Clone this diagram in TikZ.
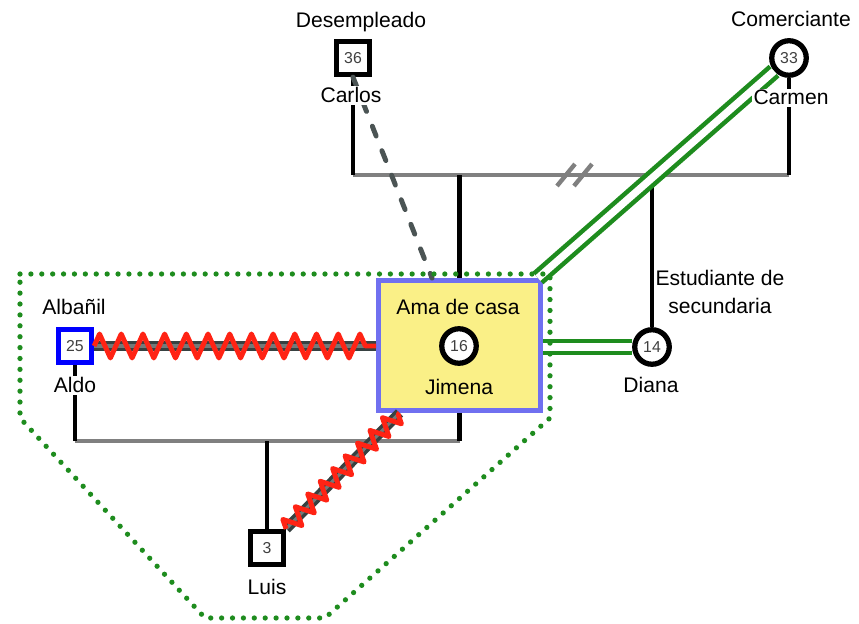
\documentclass[tikz,border=0pt]{standalone}
\usepackage{fontspec}
\setmainfont{Liberation Sans}
\usetikzlibrary{positioning,calc,decorations.pathmorphing}

\definecolor{famgreen}{RGB}{30,140,30}
\definecolor{boxblue}{RGB}{112,112,240}
\definecolor{boxyellow}{RGB}{250,240,135}
\definecolor{abuse}{RGB}{255,35,20}
\definecolor{slate}{RGB}{55,65,65}
\definecolor{numgray}{RGB}{64,64,64}

\tikzset{
  male/.style={draw, line width=3pt, fill=white, minimum size=0.66cm, inner sep=0pt,
    text=numgray, font=\fontsize{9}{10}\selectfont},
  female/.style={male, circle, minimum size=0.69cm},
  txt/.style={fill=white, inner sep=1pt, anchor=base, font=\fontsize{12}{16.4}\selectfont},
  kin/.style={line width=2.5pt},
  tie/.style={line width=2.5pt, gray},
  close/.style={draw=famgreen, line width=2.6pt, double=white, double distance=4.2pt},
  distant/.style={slate!90, line width=2.8pt, line cap=round, dash pattern=on 6pt off 9pt},
  hostile/.style={slate, line width=2pt, double=slate!70, double distance=1.8pt},
  zig/.style={abuse, line width=2.8pt, line join=round, decorate,
    decoration={zigzag, segment length=0.434cm, amplitude=0.24cm}},
  zigs/.style={zig, decoration={zigzag, segment length=0.356cm, amplitude=0.18cm}},
  household/.style={famgreen, line width=3pt, line cap=round, dash pattern=on 0pt off 6.2pt}
}

\begin{document}
\begin{tikzpicture}[x=0.02cm, y=-0.02cm]
\useasboundingbox (0,0) rectangle (859,624);

% people
\node[male] (carlos) at (353,58) {36};
\node[female] (carmen) at (789,58) {33};
\node[draw=boxblue, fill=boxyellow, line width=2.8pt, minimum width=3.24cm,
  minimum height=2.6cm] (jbox) at (459.5,345.5) {};
\node[female] (diana) at (652,347) {14};
\node[male, draw=blue] (aldo) at (75,346) {25};
\node[male] (luis) at (267,548) {3};

% marriage bars
\coordinate (bar1) at (0,175);
\coordinate (bar2) at (0,441);
\draw[tie] (carlos |- bar1) -- (carmen |- bar1);
\foreach \x in {566,583}
  \draw[tie] (\x,175) ++(-9,11) -- ++(18,-22);
\draw[kin] (carlos) -- (carlos |- bar1);
\draw[kin] (carmen) -- (carmen |- bar1);
\draw[kin] (jbox.north) -- (jbox.north |- bar1);
\draw[kin] (diana) -- (diana |- bar1);
\draw[tie] (aldo |- bar2) -- (jbox.south |- bar2);
\draw[kin] (aldo) -- (aldo |- bar2);
\draw[kin] (jbox.south) -- (jbox.south |- bar2);
\draw[kin] (luis) -- (luis |- bar2);

% relations
\draw[distant] (carlos.south) -- ([xshift=-0.55cm]jbox.north);
\draw[close] ([xshift=-0.1cm]jbox.north east) -- (carmen);
\draw[close] (jbox.east |- diana) -- (diana);
\draw[hostile] (aldo) -- (aldo -| jbox.west);
\draw[zig] (aldo) -- (aldo -| jbox.west);
\draw[hostile] (luis.north east) -- ([xshift=-1.2cm]jbox.south);
\draw[zigs] (luis.north east) -- ([xshift=-1.2cm]jbox.south);

% household
\draw[household] (20,274) -- (550,274) -- (550,418) -- (325,618) -- (205,618)
  -- (20,418) -- cycle;

\node[female] (jimena) at (459,346) {16};

% labels
\node[txt] (jcarlos) at (361,28) {Desempleado};
\node[txt] (ncarlos) at (351,103) {Carlos};
\node[txt] (jcarmen) at (791,27) {Comerciante};
\node[txt] (ncarmen) at (791,105) {Carmen};
\node[txt, fill=none] (jjimena) at (458,315) {Ama de casa};
\node[txt, fill=none] (njimena) at (459,395) {Jimena};
\node[txt, anchor=center, align=center] (jdiana) at (720,292) {Estudiante de\\secundaria};
\node[txt] (ndiana) at (651,393) {Diana};
\node[txt] (jaldo) at (74,315) {Albañil};
\node[txt] (naldo) at (75,393) {Aldo};
\node[txt] (nluis) at (267,595) {Luis};
\end{tikzpicture}
\end{document}
